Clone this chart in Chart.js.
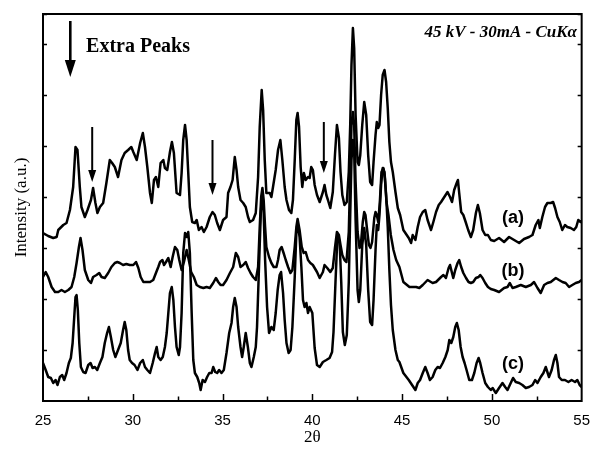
<!DOCTYPE html>
<html>
<head>
<meta charset="utf-8">
<title>XRD patterns</title>
<script src="https://cdn.jsdelivr.net/npm/chart.js@4/dist/chart.umd.min.js"></script>
<style>
  html, body { margin: 0; padding: 0; background: #fff; }
  canvas { display: block; }
</style>
</head>
<body>
<canvas id="xrdChart" width="601" height="456"></canvas>
<script>
// 2-theta (deg) vs intensity (a.u., stacked) for the three samples
const patternA = [
  [25.0, 168], [25.29, 165], [25.57, 163], [25.76, 164], [25.85, 171], [26.13, 176], [26.31, 178], [26.5, 191],
  [26.68, 214], [26.81, 254], [26.92, 251], [27.05, 214], [27.14, 194], [27.33, 184], [27.48, 191], [27.67, 201],
  [27.79, 213], [27.92, 198], [28.03, 188], [28.17, 194], [28.35, 198], [28.53, 218], [28.72, 241], [28.85, 238],
  [29.0, 234], [29.18, 224], [29.37, 241], [29.55, 248], [29.74, 251], [29.92, 254], [30.03, 249], [30.22, 241],
  [30.41, 258], [30.56, 268], [30.68, 254], [30.81, 234], [30.96, 208], [31.06, 198], [31.18, 221], [31.29, 224],
  [31.42, 214], [31.55, 238], [31.7, 241], [31.79, 233], [31.92, 231], [32.07, 249], [32.18, 259], [32.29, 248],
  [32.44, 208], [32.63, 206], [32.72, 228], [32.81, 261], [32.91, 276], [33.0, 261], [33.09, 228], [33.18, 194],
  [33.31, 179], [33.46, 178], [33.56, 181], [33.68, 171], [33.83, 174], [33.96, 169], [34.11, 174], [34.29, 184],
  [34.44, 189], [34.57, 186], [34.7, 178], [34.85, 171], [35.03, 181], [35.22, 184], [35.31, 208], [35.44, 214],
  [35.56, 221], [35.68, 244], [35.78, 231], [35.87, 214], [36.0, 201], [36.15, 198], [36.29, 194], [36.42, 184],
  [36.52, 179], [36.7, 181], [36.85, 188], [36.98, 224], [37.07, 274], [37.18, 311], [37.26, 291], [37.35, 241],
  [37.44, 208], [37.63, 208], [37.72, 204], [37.81, 214], [37.96, 231], [38.09, 251], [38.22, 261], [38.33, 241],
  [38.46, 214], [38.56, 201], [38.7, 191], [38.83, 188], [38.92, 201], [39.02, 241], [39.11, 281], [39.18, 288],
  [39.26, 274], [39.35, 234], [39.44, 214], [39.53, 228], [39.63, 221], [39.76, 224], [39.85, 223], [39.94, 234],
  [40.03, 231], [40.13, 216], [40.26, 206], [40.41, 199], [40.59, 209], [40.68, 216], [40.78, 206], [40.87, 201],
  [41.0, 193], [41.14, 209], [41.26, 246], [41.37, 276], [41.48, 263], [41.57, 229], [41.67, 206], [41.79, 196],
  [41.92, 199], [42.03, 229], [42.11, 276], [42.18, 336], [42.26, 373], [42.33, 353], [42.41, 286], [42.52, 239],
  [42.59, 236], [42.67, 246], [42.78, 276], [42.89, 299], [43.0, 286], [43.11, 246], [43.22, 219], [43.33, 216],
  [43.41, 239], [43.52, 266], [43.59, 279], [43.67, 273], [43.74, 276], [43.83, 306], [43.92, 326], [44.02, 331],
  [44.11, 319], [44.2, 293], [44.29, 259], [44.38, 239], [44.48, 229], [44.63, 209], [44.76, 193], [44.89, 186],
  [45.07, 171], [45.37, 163], [45.5, 158], [45.59, 166], [45.74, 161], [45.87, 174], [46.0, 184], [46.15, 189],
  [46.29, 191], [46.42, 181], [46.61, 171], [46.74, 179], [46.89, 189], [47.04, 196], [47.17, 199], [47.35, 204],
  [47.53, 209], [47.67, 204], [47.78, 199], [47.9, 211], [48.04, 218], [48.11, 221], [48.18, 208], [48.29, 189],
  [48.41, 186], [48.54, 179], [48.68, 171], [48.83, 164], [48.96, 171], [49.11, 188], [49.22, 196], [49.33, 188],
  [49.48, 171], [49.63, 166], [49.78, 166], [49.94, 161], [50.13, 160], [50.4, 163], [50.68, 159], [50.96, 164],
  [51.24, 161], [51.52, 158], [51.79, 162], [52.07, 164], [52.26, 166], [52.44, 176], [52.59, 181], [52.67, 173],
  [52.81, 184], [52.96, 194], [53.09, 198], [53.28, 198], [53.41, 199], [53.52, 193], [53.65, 184], [53.78, 179],
  [53.92, 171], [54.07, 176], [54.2, 174], [54.39, 173], [54.57, 171], [54.7, 174], [54.81, 181], [54.94, 179],
  [55.0, 180]
];

const patternB = [
  [25.0, 124], [25.15, 129], [25.29, 124], [25.48, 114], [25.67, 109], [25.85, 109], [26.03, 111], [26.22, 109],
  [26.41, 111], [26.59, 114], [26.74, 124], [26.87, 138], [27.0, 154], [27.09, 163], [27.2, 151], [27.33, 131],
  [27.52, 121], [27.67, 118], [27.79, 124], [27.98, 126], [28.13, 128], [28.26, 124], [28.44, 123], [28.63, 128],
  [28.81, 134], [29.0, 138], [29.14, 139], [29.28, 138], [29.46, 136], [29.64, 137], [29.83, 136], [30.03, 136],
  [30.18, 139], [30.31, 133], [30.44, 124], [30.59, 119], [30.78, 119], [30.96, 119], [31.14, 121], [31.29, 128],
  [31.42, 134], [31.52, 139], [31.65, 141], [31.74, 136], [31.85, 139], [31.98, 143], [32.11, 134], [32.22, 144],
  [32.35, 154], [32.48, 151], [32.59, 141], [32.72, 131], [32.85, 139], [33.0, 151], [33.12, 141], [33.25, 129],
  [33.4, 124], [33.56, 116], [33.74, 114], [33.93, 113], [34.11, 114], [34.29, 113], [34.48, 118], [34.63, 123],
  [34.76, 119], [34.89, 116], [35.03, 116], [35.22, 121], [35.41, 128], [35.59, 134], [35.74, 148], [35.87, 144],
  [36.0, 134], [36.15, 136], [36.29, 139], [36.42, 133], [36.56, 128], [36.7, 124], [36.85, 121], [36.98, 134],
  [37.07, 174], [37.15, 204], [37.22, 213], [37.29, 201], [37.37, 174], [37.44, 154], [37.59, 144], [37.72, 138],
  [37.85, 134], [38.0, 134], [38.09, 141], [38.18, 151], [38.29, 154], [38.4, 148], [38.52, 141], [38.65, 134],
  [38.78, 128], [38.89, 131], [39.02, 154], [39.11, 174], [39.18, 182], [39.29, 171], [39.41, 154], [39.52, 148],
  [39.63, 149], [39.76, 141], [39.89, 138], [40.03, 136], [40.26, 129], [40.41, 123], [40.59, 129], [40.68, 136],
  [40.83, 133], [41.0, 129], [41.14, 133], [41.26, 153], [41.37, 169], [41.48, 166], [41.57, 156], [41.67, 146],
  [41.79, 141], [41.9, 139], [42.03, 169], [42.11, 226], [42.18, 276], [42.26, 289], [42.33, 276], [42.41, 219],
  [42.52, 169], [42.63, 153], [42.7, 156], [42.81, 179], [42.89, 189], [42.96, 186], [43.04, 173], [43.15, 156],
  [43.24, 153], [43.33, 159], [43.45, 183], [43.52, 189], [43.59, 186], [43.67, 179], [43.76, 199], [43.85, 229],
  [43.96, 233], [44.04, 223], [44.13, 199], [44.24, 186], [44.37, 166], [44.52, 151], [44.67, 141], [44.85, 134],
  [45.07, 119], [45.41, 114], [45.78, 114], [45.96, 113], [46.15, 116], [46.42, 121], [46.7, 118], [46.89, 119],
  [47.17, 124], [47.3, 126], [47.44, 123], [47.59, 133], [47.67, 136], [47.78, 128], [47.85, 123], [47.96, 131],
  [48.09, 138], [48.18, 141], [48.29, 134], [48.41, 128], [48.56, 123], [48.7, 119], [48.83, 118], [48.96, 119],
  [49.11, 123], [49.26, 124], [49.35, 126], [49.48, 123], [49.63, 118], [49.78, 114], [49.94, 112], [50.13, 111],
  [50.4, 109], [50.68, 113], [50.87, 114], [51.0, 118], [51.15, 113], [51.33, 114], [51.61, 116], [51.89, 114],
  [52.17, 116], [52.35, 119], [52.54, 113], [52.72, 108], [52.91, 116], [53.09, 118], [53.28, 119], [53.56, 123],
  [53.74, 121], [53.93, 119], [54.11, 118], [54.3, 114], [54.48, 116], [54.67, 118], [54.85, 119], [55.0, 121]
];

const patternC = [
  [25.0, 38], [25.15, 31], [25.29, 24], [25.44, 23], [25.57, 18], [25.7, 21], [25.81, 16], [25.94, 24],
  [26.07, 26], [26.18, 21], [26.31, 28], [26.44, 38], [26.55, 43], [26.65, 58], [26.74, 84], [26.81, 104],
  [26.87, 106], [26.94, 91], [27.02, 58], [27.11, 34], [27.24, 29], [27.37, 28], [27.52, 36], [27.65, 38],
  [27.76, 33], [27.89, 34], [28.02, 31], [28.17, 38], [28.31, 44], [28.44, 58], [28.57, 68], [28.67, 74],
  [28.78, 64], [28.91, 51], [29.03, 44], [29.18, 51], [29.33, 58], [29.46, 71], [29.55, 79], [29.64, 71],
  [29.74, 51], [29.83, 41], [29.96, 38], [30.1, 36], [30.26, 31], [30.41, 38], [30.56, 41], [30.68, 34],
  [30.81, 31], [30.96, 28], [31.11, 38], [31.24, 48], [31.33, 54], [31.42, 44], [31.55, 41], [31.67, 44],
  [31.79, 54], [31.89, 68], [31.98, 88], [32.07, 108], [32.17, 114], [32.26, 101], [32.35, 74], [32.44, 54],
  [32.56, 46], [32.63, 54], [32.72, 88], [32.81, 148], [32.91, 168], [33.0, 164], [33.09, 169], [33.18, 148],
  [33.28, 88], [33.37, 41], [33.46, 28], [33.59, 24], [33.7, 18], [33.78, 11], [33.89, 21], [34.02, 19],
  [34.14, 24], [34.26, 28], [34.39, 28], [34.48, 34], [34.59, 29], [34.7, 28], [34.81, 31], [34.94, 28],
  [35.07, 31], [35.22, 48], [35.37, 68], [35.5, 78], [35.59, 94], [35.68, 103], [35.78, 94], [35.87, 74],
  [36.0, 54], [36.09, 44], [36.18, 54], [36.29, 68], [36.41, 54], [36.52, 38], [36.61, 34], [36.74, 44],
  [36.85, 54], [36.92, 74], [37.03, 134], [37.13, 188], [37.2, 206], [37.28, 194], [37.37, 141], [37.48, 94],
  [37.59, 68], [37.72, 74], [37.85, 71], [37.96, 88], [38.07, 111], [38.18, 126], [38.26, 129], [38.37, 108],
  [38.46, 81], [38.56, 58], [38.68, 48], [38.79, 51], [38.89, 74], [39.02, 124], [39.11, 168], [39.2, 176],
  [39.29, 164], [39.39, 134], [39.48, 101], [39.57, 94], [39.67, 98], [39.76, 88], [39.85, 94], [40.0, 88],
  [40.13, 53], [40.26, 36], [40.41, 34], [40.59, 39], [40.78, 41], [40.96, 43], [41.1, 49], [41.18, 69],
  [41.29, 119], [41.4, 166], [41.52, 159], [41.61, 119], [41.7, 69], [41.81, 56], [41.92, 66], [42.03, 119],
  [42.11, 186], [42.18, 241], [42.26, 261], [42.33, 251], [42.41, 181], [42.52, 111], [42.59, 99], [42.67, 111],
  [42.78, 156], [42.89, 173], [43.0, 156], [43.11, 111], [43.22, 79], [43.33, 76], [43.41, 101], [43.52, 151],
  [43.59, 176], [43.67, 171], [43.74, 186], [43.83, 216], [43.92, 233], [44.02, 229], [44.11, 206], [44.2, 174],
  [44.29, 131], [44.38, 96], [44.48, 71], [44.63, 51], [44.76, 41], [44.85, 39], [45.07, 28], [45.37, 21],
  [45.63, 14], [45.74, 11], [45.87, 18], [46.0, 21], [46.15, 28], [46.29, 34], [46.42, 28], [46.55, 21],
  [46.7, 24], [46.85, 31], [46.98, 34], [47.11, 33], [47.26, 38], [47.41, 44], [47.54, 51], [47.63, 61],
  [47.74, 58], [47.85, 64], [47.96, 74], [48.05, 78], [48.15, 71], [48.26, 54], [48.37, 44], [48.48, 38],
  [48.59, 31], [48.74, 21], [48.89, 21], [49.02, 28], [49.15, 38], [49.26, 43], [49.35, 38], [49.48, 28],
  [49.63, 18], [49.78, 14], [49.94, 11], [50.04, 13], [50.22, 8], [50.4, 13], [50.59, 18], [50.74, 14],
  [50.87, 11], [51.05, 18], [51.18, 23], [51.33, 19], [51.52, 18], [51.7, 16], [51.89, 13], [52.07, 14],
  [52.26, 16], [52.41, 21], [52.54, 18], [52.72, 24], [52.87, 28], [53.0, 34], [53.09, 29], [53.18, 24],
  [53.33, 31], [53.46, 41], [53.56, 46], [53.65, 38], [53.74, 24], [53.89, 21], [54.07, 21], [54.26, 19],
  [54.44, 21], [54.63, 19], [54.76, 21], [54.89, 16], [55.0, 14]
];

const sampleLabels = ['(a)', '(b)', '(c)'];
// where each sample tag sits: [2theta, intensity]
const labelAnchors = [[51.18, 183], [51.18, 130], [51.18, 37]];
// extra peaks marked on pattern (a): [2theta, arrow top, arrow tip]
const extraPeaks = [[27.74, 274, 219], [34.44, 261, 206], [40.64, 279, 228]];

document.addEventListener('DOMContentLoaded', () => {
    const ctx = document.getElementById('xrdChart');

    const toPoints = pattern => pattern.map(p => ({ x: p[0], y: p[1] }));

    const traceStyle = {
        borderColor: '#000',
        borderWidth: 2.5,
        borderJoinStyle: 'round',
        pointRadius: 0,
        tension: 0,
        fill: false
    };

    // frame, inward ticks, arrows and text labels
    const decorations = {
        id: 'decorations',
        afterDraw(chart) {
            const { ctx: c, chartArea: area, scales: { x, y } } = chart;
            c.save();
            c.strokeStyle = '#000';
            c.fillStyle = '#000';

            c.lineWidth = 2;
            c.strokeRect(area.left, area.top, area.right - area.left, area.bottom - area.top);

            c.lineWidth = 1.5;
            for (let v = 27.5; v < 55; v += 2.5) {
                const px = Math.round(x.getPixelForValue(v)) + 0.5;
                const len = v % 5 === 0 ? 7 : 4.5;
                c.beginPath();
                c.moveTo(px, area.bottom);
                c.lineTo(px, area.bottom - len);
                c.stroke();
            }
            y.ticks.forEach(t => {
                if (t.value <= 0) return;
                const py = Math.round(y.getPixelForValue(t.value)) + 0.5;
                c.beginPath();
                c.moveTo(area.left, py);
                c.lineTo(area.left + 4, py);
                c.moveTo(area.right, py);
                c.lineTo(area.right - 4, py);
                c.stroke();
            });

            drawArrow(c, x.getPixelForValue(26.52), y.getPixelForValue(380), y.getPixelForValue(324), 2.6, 11, 17);
            extraPeaks.forEach(([pos, top, tip]) => {
                drawArrow(c, x.getPixelForValue(pos), y.getPixelForValue(top), y.getPixelForValue(tip), 2, 8, 12);
            });

            c.textBaseline = 'alphabetic';
            c.textAlign = 'left';
            c.font = 'bold 20px "Liberation Serif", "Times New Roman", serif';
            c.fillText('Extra Peaks', x.getPixelForValue(27.4), y.getPixelForValue(349));

            c.textAlign = 'right';
            c.font = 'italic bold 17px "Liberation Serif", "Times New Roman", serif';
            c.fillText('45 kV - 30mA - CuK\u03b1', x.getPixelForValue(54.74), y.getPixelForValue(364));

            c.textAlign = 'center';
            c.textBaseline = 'middle';
            c.font = 'bold 18px "Liberation Sans", Arial, sans-serif';
            sampleLabels.forEach((label, i) => {
                const [pos, level] = labelAnchors[i];
                c.fillText(label, x.getPixelForValue(pos), y.getPixelForValue(level));
            });
            c.restore();
        }
    };

    function drawArrow(c, px, yTop, yTip, shaft, headWidth, headLength) {
        c.lineWidth = shaft;
        c.beginPath();
        c.moveTo(px, yTop);
        c.lineTo(px, yTip - headLength + 2);
        c.stroke();
        c.beginPath();
        c.moveTo(px - headWidth / 2, yTip - headLength);
        c.lineTo(px + headWidth / 2, yTip - headLength);
        c.lineTo(px, yTip);
        c.closePath();
        c.fill();
    }

    new Chart(ctx, {
        type: 'line',
        data: {
            datasets: [
                { label: sampleLabels[0], data: toPoints(patternA), ...traceStyle },
                { label: sampleLabels[1], data: toPoints(patternB), ...traceStyle },
                { label: sampleLabels[2], data: toPoints(patternC), ...traceStyle }
            ]
        },
        options: {
            responsive: false,
            devicePixelRatio: 1,
            animation: false,
            layout: { padding: { top: 14, right: 18, left: 0, bottom: 0 } },
            plugins: {
                legend: { display: false },
                tooltip: { enabled: false }
            },
            scales: {
                x: {
                    type: 'linear',
                    min: 25,
                    max: 55,
                    grid: { display: false, drawTicks: false },
                    border: { display: false },
                    ticks: {
                        stepSize: 5,
                        padding: 11,
                        color: '#000',
                        font: { family: '"Liberation Sans", Arial, sans-serif', size: 15 }
                    },
                    title: {
                        display: true,
                        text: '2\u03b8',
                        color: '#000',
                        padding: { top: 0, bottom: 8 },
                        font: { family: '"Liberation Serif", "Times New Roman", serif', size: 17 }
                    },
                    afterFit: scale => { scale.height = 55; }
                },
                y: {
                    min: 0,
                    max: 387,
                    grid: { display: false, drawTicks: false },
                    border: { display: false },
                    ticks: { display: false, stepSize: 51 },
                    title: {
                        display: true,
                        text: 'Intensity (a.u.)',
                        color: '#000',
                        padding: { top: 11, bottom: 0 },
                        font: { family: '"Liberation Serif", "Times New Roman", serif', size: 17 }
                    },
                    afterFit: scale => { scale.width = 43; }
                }
            }
        },
        plugins: [decorations]
    });
});
</script>
</body>
</html>
